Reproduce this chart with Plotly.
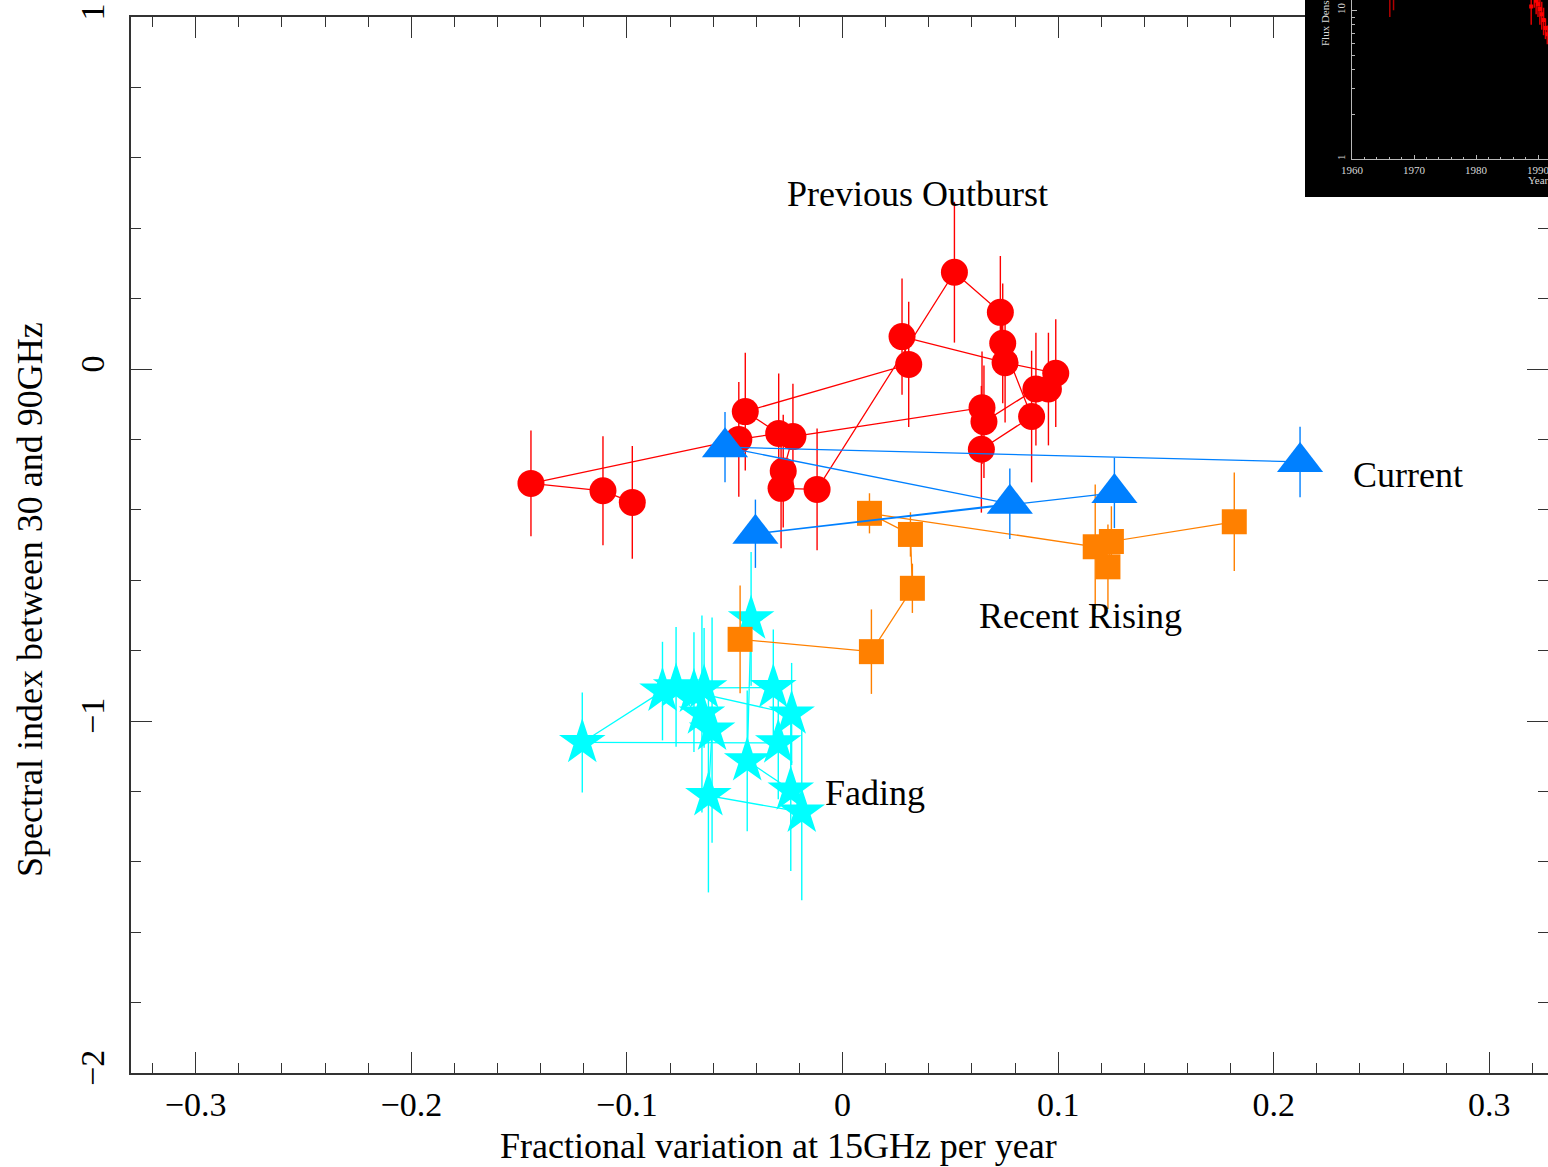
import plotly.graph_objects as go

W, H = 1548, 1167
FONT = "Liberation Serif"

# ---- Previous outburst (red circles), in observing order ----
outburst_x = [-0.0975, -0.1111, -0.1445, -0.0481, -0.0296, -0.0451, 0.0307, 0.0276,
              0.0754, 0.0989, 0.0955, 0.0897, 0.0656, 0.0647, -0.0230, -0.0275,
              -0.0285, -0.0118, 0.0519, 0.0732, 0.0743, 0.0877, 0.0644]
outburst_y = [-0.379, -0.346, -0.325, -0.200, -0.183, -0.121, 0.013, 0.092,
              0.018, -0.012, -0.057, -0.057, -0.150, -0.110, -0.192, -0.290,
              -0.339, -0.342, 0.275, 0.161, 0.073, -0.135, -0.228]
outburst_err = [0.160, 0.155, 0.150, 0.163, 0.170, 0.167, 0.178, 0.165,
                0.170, 0.153, 0.160, 0.160, 0.160, 0.160, 0.150, 0.160,
                0.170, 0.173, 0.200, 0.160, 0.170, 0.187, 0.180]

# ---- Fading (cyan stars) ----
fading_x = [-0.0424, -0.0442, -0.0240, -0.0189, -0.0622, -0.0605, -0.0652, -0.0642,
            -0.0321, -0.0236, -0.0689, -0.0772, -0.0835, -0.1207, -0.0298]
fading_y = [-0.710, -1.113, -1.196, -1.259, -1.212, -1.026, -0.980, -0.906,
            -0.905, -0.980, -0.918, -0.903, -0.915, -1.061, -1.062]
fading_err = [0.19, 0.20, 0.23, 0.25, 0.275, 0.32, 0.28, 0.17,
              0.165, 0.145, 0.17, 0.17, 0.14, 0.142, 0.16]

# ---- Recent rising (orange squares) ----
rising_x = [-0.0475, 0.0134, 0.0324, 0.0315, 0.0125, 0.1172, 0.1231, 0.1247, 0.1817]
rising_y = [-0.768, -0.803, -0.623, -0.470, -0.410, -0.505, -0.562, -0.490, -0.434]
rising_err = [0.153, 0.12, 0.07, 0.063, 0.057, 0.177, 0.12, 0.10, 0.14]

# ---- Current (blue triangles) ----
current_x = [0.2122, -0.0545, 0.0776, -0.0404, 0.1261]
current_y = [-0.264, -0.222, -0.383, -0.468, -0.352]
current_err = [0.10, 0.10, 0.10, 0.097, 0.10]

# ---- Inset light curve: 15 GHz flux density vs year ----
early_year = [1966.1, 1966.7]
early_flux = [13.5, 12.5]
early_err = [4.5, 2.5]
late_year = [1988.9, 1989.4, 1989.7, 1990.0, 1990.3, 1990.6, 1990.9, 1991.2, 1991.5]
late_flux = [10.6, 12.4, 11.6, 11.0, 10.2, 9.4, 8.6, 7.6, 6.9]
late_err = [2.6, 2.0, 2.2, 2.0, 2.2, 2.0, 1.8, 1.2, 1.0]


def px(x):
    return x / W


def py(y):
    return 1 - y / H


fig = go.Figure()


def series(x, y, err, color, symbol, size):
    fig.add_trace(go.Scatter(
        x=x, y=y, mode="lines+markers",
        line=dict(color=color, width=1.3),
        marker=dict(color=color, symbol=symbol, size=size, line=dict(width=0)),
        error_y=dict(type="data", array=err, visible=True, color=color,
                     thickness=1.4, width=0),
        showlegend=False, hoverinfo="x+y",
        xaxis="x", yaxis="y",
    ))


series(fading_x, fading_y, fading_err, "#00ffff", "star", 35)
series(rising_x, rising_y, rising_err, "#ff8000", "square", 25)
series(outburst_x, outburst_y, outburst_err, "#ff0000", "circle", 27)
series(current_x, current_y, current_err, "#0080ff", "triangle-up", 40)

# black panel behind the inset light curve
fig.add_trace(go.Scatter(
    x=[0, 1, 1, 0, 0], y=[0, 0, 1, 1, 0], mode="lines", fill="toself",
    fillcolor="#000000", line=dict(width=0, color="#000000"),
    showlegend=False, hoverinfo="skip", xaxis="x2", yaxis="y2",
))

# inset light curve
fig.add_trace(go.Scatter(
    x=early_year, y=early_flux, mode="markers",
    marker=dict(color="#b00000", symbol="square", size=3),
    error_y=dict(type="data", array=early_err, visible=True, color="#b00000",
                 thickness=1.5, width=0),
    showlegend=False, xaxis="x3", yaxis="y3",
))
fig.add_trace(go.Scatter(
    x=late_year, y=late_flux, mode="markers",
    marker=dict(color="#ff0000", symbol="square", size=4),
    error_y=dict(type="data", array=late_err, visible=True, color="#e00000",
                 thickness=1.5, width=0),
    showlegend=False, xaxis="x3", yaxis="y3",
))

axis_col = "#333333"
tickfont = dict(family=FONT, size=34, color="#000000")
inset_font = dict(family=FONT, size=11, color="#d8d8d8")

fig.update_layout(
    width=W, height=H,
    margin=dict(l=0, r=0, t=0, b=0),
    paper_bgcolor="#ffffff",
    plot_bgcolor="rgba(0,0,0,0)",
    font=dict(family=FONT, color="#000000"),
    xaxis=dict(
        domain=[px(131), 1.0], range=[-0.33, 0.3272], anchor="y",
        showgrid=False, zeroline=False, showline=True, linecolor=axis_col,
        linewidth=1.5, mirror="ticks", ticks="inside", ticklen=21,
        tickwidth=1.3, tickcolor=axis_col, tick0=0, dtick=0.1,
        minor=dict(ticks="inside", dtick=0.02, ticklen=10, tickwidth=1.2,
                   tickcolor=axis_col),
        tickfont=tickfont, ticklabelstandoff=0, automargin=False,
    ),
    yaxis=dict(
        domain=[py(1073), py(17)], range=[-2, 1], anchor="x",
        showgrid=False, zeroline=False, showline=True, linecolor=axis_col,
        linewidth=1.5, mirror="ticks", ticks="inside", ticklen=21,
        tickwidth=1.3, tickcolor=axis_col, tick0=0, dtick=1,
        minor=dict(ticks="inside", dtick=0.2, ticklen=10, tickwidth=1.2,
                   tickcolor=axis_col),
        tickfont=tickfont, tickangle=-90, ticklabelstandoff=12,
        ticklabeloverflow="allow", automargin=False,
    ),
    xaxis2=dict(domain=[px(1305), 1.0], range=[0, 1], anchor="y2",
                visible=False, fixedrange=True),
    yaxis2=dict(domain=[py(197), 1.0], range=[0, 1], anchor="x2",
                visible=False, fixedrange=True),
    xaxis3=dict(
        domain=[px(1352), 1.0], range=[1960, 1991.61], anchor="y3",
        showgrid=False, zeroline=False, showline=True, linecolor="#b8b8b8",
        linewidth=1, ticks="inside", ticklen=4, tickwidth=1,
        tickcolor="#b8b8b8", tick0=1960, dtick=10,
        minor=dict(ticks="inside", dtick=2, ticklen=2.5, tickwidth=1,
                   tickcolor="#b8b8b8"),
        tickfont=inset_font, ticklabelstandoff=1, ticklabeloverflow="allow",
        automargin=False,
    ),
    yaxis3=dict(
        domain=[py(159), 1.0], type="log", range=[0, 1.069], anchor="x3",
        showgrid=False, zeroline=False, showline=True, linecolor="#b8b8b8",
        linewidth=1, ticks="inside", ticklen=5, tickwidth=1,
        tickcolor="#b8b8b8", tickmode="array", tickvals=[1, 10],
        ticktext=["1", "10"],
        minor=dict(ticks="inside", tickmode="array",
                   tickvals=[2, 3, 4, 5, 6, 7, 8, 9], ticklen=2.5,
                   tickwidth=1, tickcolor="#b8b8b8"),
        tickfont=inset_font, tickangle=-90, ticklabeloverflow="allow",
        ticklabelstandoff=2, automargin=False,
    ),
)

labels = [
    ("Previous Outburst", 917, 194),
    ("Current", 1408, 475),
    ("Recent Rising", 1080, 616),
    ("Fading", 875, 793),
]
for text, x, y in labels:
    fig.add_annotation(text=text, x=px(x), y=py(y), xref="paper", yref="paper",
                       showarrow=False, xanchor="center", yanchor="middle",
                       font=dict(family=FONT, size=36, color="#000000"))

fig.add_annotation(text="Fractional variation at 15GHz per year",
                   x=px(778), y=py(1146), xref="paper", yref="paper",
                   showarrow=False, xanchor="center", yanchor="middle",
                   font=dict(family=FONT, size=36, color="#000000"))
fig.add_annotation(text="Spectral index between 30 and 90GHz",
                   x=px(30), y=py(600), xref="paper", yref="paper",
                   showarrow=False, textangle=-90, xanchor="center",
                   yanchor="middle",
                   font=dict(family=FONT, size=36, color="#000000"))

# inset axis labels
fig.add_annotation(text="Year", x=px(1526), y=py(180), xref="paper",
                   yref="paper", showarrow=False, xanchor="left",
                   yanchor="middle", font=inset_font)
fig.add_annotation(text="Flux Density (Jy)", x=px(1325), y=py(8),
                   xref="paper", yref="paper", showarrow=False, textangle=-90,
                   xanchor="center", yanchor="middle", font=inset_font)

fig.write_html("out.html")
